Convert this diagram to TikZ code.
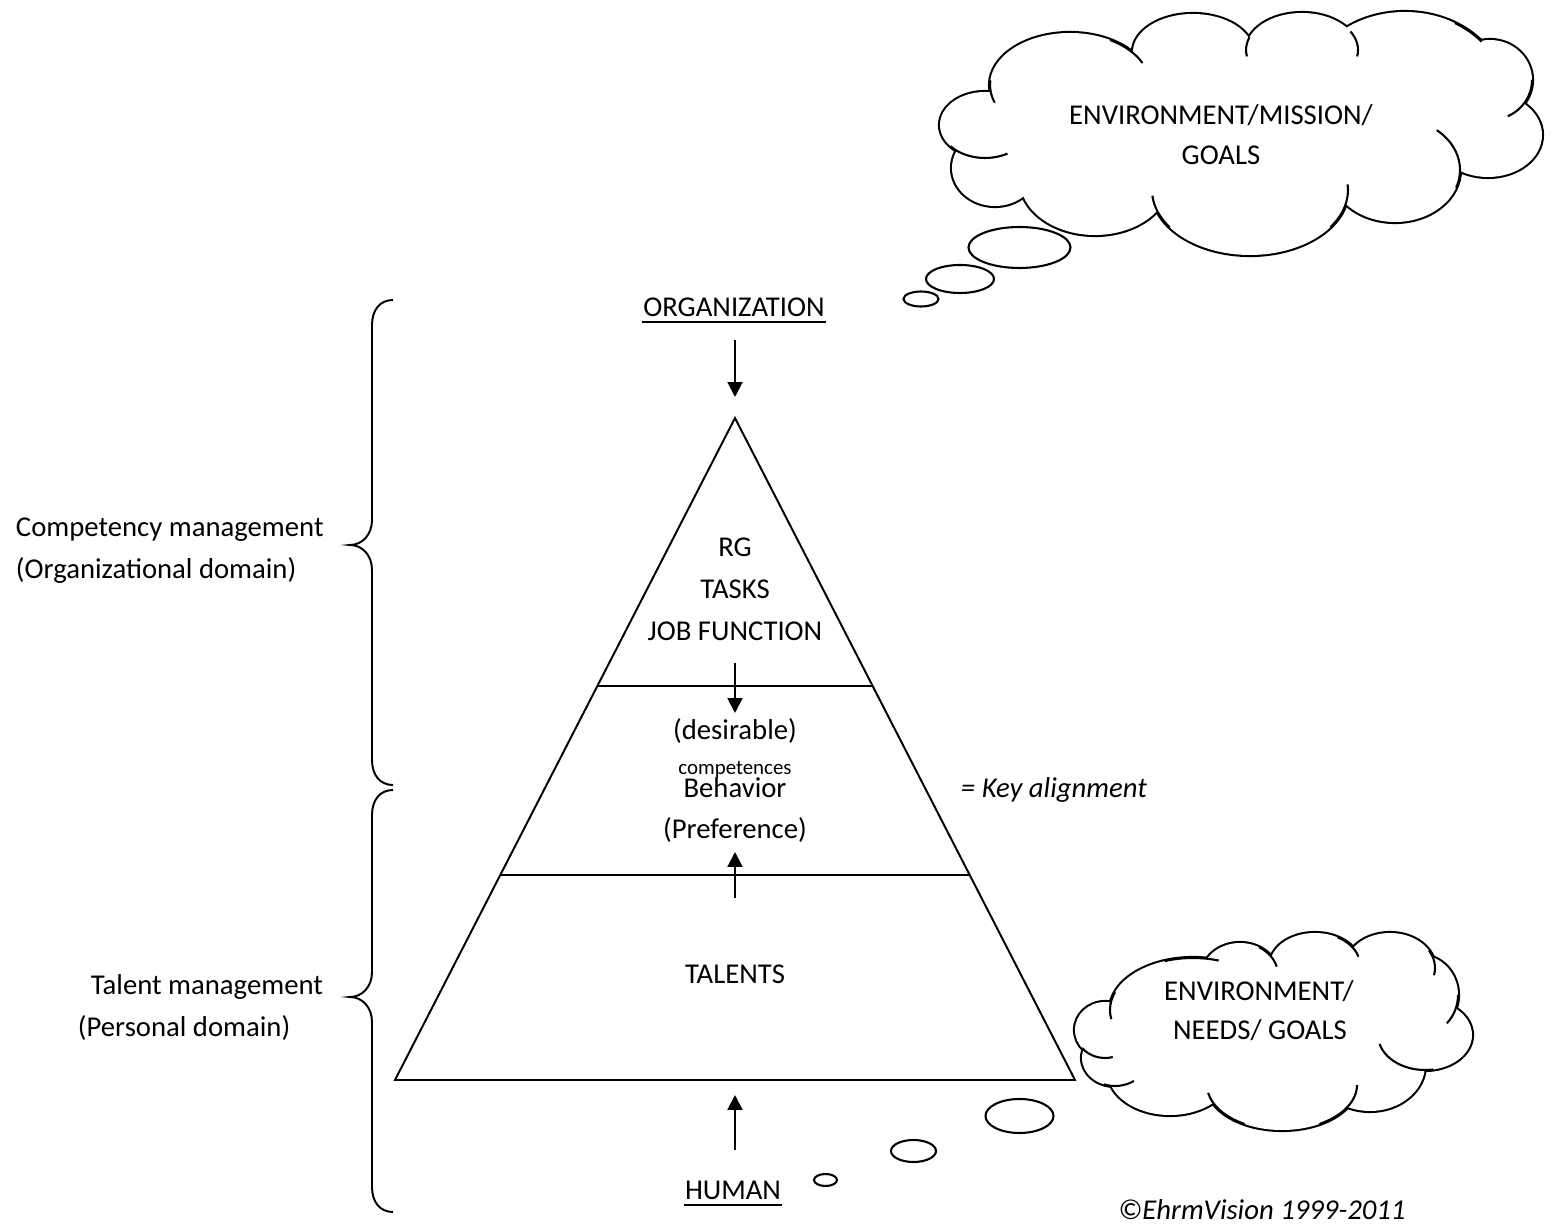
\documentclass[tikz,border=0pt]{standalone}
\usepackage{fontspec}
\setmainfont{Carlito}
\usetikzlibrary{arrows.meta}
\newcommand{\pxl}{0.3832pt}
% outline stroke of a cloud puff (drawn double width, inner half is covered by the fills)
\newcommand{\puffstroke}[4]{\draw[line width=1.6pt] (#1,#2) ellipse [x radius=#3*\pxl, y radius=#4*\pxl];}
\newcommand{\pufffill}[4]{\fill[white] (#1,#2) ellipse [x radius=#3*\pxl, y radius=#4*\pxl];}
% short inner arc of a puff, angles in canvas orientation
\newcommand{\puffstub}[6]{\draw[line width=0.8pt] (#1,#2) ++({#5}:{#3*\pxl} and {#4*\pxl}) arc [start angle=#5, end angle=#6, x radius=#3*\pxl, y radius=#4*\pxl];}
\begin{document}
\begin{tikzpicture}[x=0.3832pt,y=-0.3832pt,line width=0.75pt,
  txt/.style={inner sep=0pt,font=\fontsize{11pt}{13pt}\selectfont,anchor=base},
  arr/.style={-{Triangle[width=5.7pt,length=5.7pt]},line width=0.8pt},
  bubble/.style={draw=black,line width=0.8pt}]
\useasboundingbox (0,0) rectangle (1553,1228);

% ---------- big cloud ----------
\puffstroke{985}{125}{45}{33}
\puffstroke{1070}{85}{80}{52}
\puffstroke{1193}{52}{60}{38}
\puffstroke{1302}{50}{56}{37}
\puffstroke{1405}{95}{100}{83}
\puffstroke{1490}{80}{42}{40}
\puffstroke{1488}{135}{54}{42}
\puffstroke{1395}{170}{65}{52}
\puffstroke{1250}{190}{98}{65}
\puffstroke{1095}{180}{75}{55}
\puffstroke{995}{168}{43}{38}
\pufffill{985}{125}{45}{33}
\pufffill{1070}{85}{80}{52}
\pufffill{1193}{52}{60}{38}
\pufffill{1302}{50}{56}{37}
\pufffill{1405}{95}{100}{83}
\pufffill{1490}{80}{42}{40}
\pufffill{1488}{135}{54}{42}
\pufffill{1395}{170}{65}{52}
\pufffill{1250}{190}{98}{65}
\pufffill{1095}{180}{75}{55}
\pufffill{995}{168}{43}{38}
\fill[white] (1240,125) ellipse [x radius=235*\pxl, y radius=70*\pxl];
\puffstub{985}{125}{45}{33}{-140}{-60}
\puffstub{1070}{85}{80}{52}{-185}{-160}
\puffstub{1070}{85}{80}{52}{60}{25}
\puffstub{1302}{50}{56}{37}{-200}{-170}
\puffstub{1302}{50}{56}{37}{30}{-10}
\puffstub{1405}{95}{100}{83}{60}{40}
\puffstub{1490}{80}{42}{40}{0}{-65}
\puffstub{1395}{170}{65}{52}{-20}{50}
\puffstub{1250}{190}{98}{65}{-35}{5}
\puffstub{1250}{190}{98}{65}{-145}{-175}
\node[txt] (c1a) at (1221,125) {ENVIRONMENT/MISSION/};
\node[txt] (c1b) at (1221,165) {GOALS};
\draw[bubble] (1019.5,247.5) ellipse [x radius=51*\pxl, y radius=20.5*\pxl];
\draw[bubble] (960,279) ellipse [x radius=34*\pxl, y radius=14*\pxl];
\draw[bubble] (921,299) ellipse [x radius=17.5*\pxl, y radius=7.5*\pxl];

% ---------- small cloud ----------
\puffstroke{1193}{1010}{83}{52}
\puffstroke{1240}{975}{38}{32}
\puffstroke{1315}{965}{45}{32}
\puffstroke{1390}{968}{45}{35}
\puffstroke{1420}{995}{38}{40}
\puffstroke{1425}{1035}{47}{35}
\puffstroke{1370}{1065}{55}{46}
\puffstroke{1282}{1085}{75}{45}
\puffstroke{1170}{1072}{62}{43}
\puffstroke{1115}{1058}{33}{28}
\puffstroke{1105}{1030}{30}{28}
\pufffill{1193}{1010}{83}{52}
\pufffill{1240}{975}{38}{32}
\pufffill{1315}{965}{45}{32}
\pufffill{1390}{968}{45}{35}
\pufffill{1420}{995}{38}{40}
\pufffill{1425}{1035}{47}{35}
\pufffill{1370}{1065}{55}{46}
\pufffill{1282}{1085}{75}{45}
\pufffill{1170}{1072}{62}{43}
\pufffill{1115}{1058}{33}{28}
\pufffill{1105}{1030}{30}{28}
\fill[white] (1275,1030) ellipse [x radius=155*\pxl, y radius=55*\pxl];
\puffstub{1193}{1010}{83}{52}{-200}{-170}
\puffstub{1193}{1010}{83}{52}{110}{72}
\puffstub{1240}{975}{38}{32}{60}{15}
\puffstub{1315}{965}{45}{32}{60}{15}
\puffstub{1390}{968}{45}{35}{30}{-12}
\puffstub{1420}{995}{38}{40}{0}{-45}
\puffstub{1425}{1035}{47}{35}{-80}{-165}
\puffstub{1282}{1085}{75}{45}{-60}{0}
\puffstub{1282}{1085}{75}{45}{-120}{-170}
\puffstub{1115}{1058}{33}{28}{-110}{-55}
\puffstub{1105}{1030}{30}{28}{-140}{-75}
\node[txt] (c2a) at (1259,1001) {ENVIRONMENT/};
\node[txt] (c2b) at (1260,1040) {NEEDS/ GOALS};
\draw[bubble] (1019.5,1116) ellipse [x radius=34*\pxl, y radius=17*\pxl];
\draw[bubble] (913.5,1151) ellipse [x radius=22.5*\pxl, y radius=11*\pxl];
\draw[bubble] (825.5,1180) ellipse [x radius=11.5*\pxl, y radius=6*\pxl];

% ---------- pyramid ----------
\coordinate (apex) at (735,418);
\coordinate (bl) at (395,1080);
\coordinate (br) at (1075,1080);
\coordinate (l1) at (597.4,686);
\coordinate (r1) at (872.6,686);
\coordinate (l2) at (500.3,875);
\coordinate (r2) at (969.7,875);
\draw (apex) -- (bl) -- (br) -- cycle;
\draw (l1) -- (r1);
\draw (l2) -- (r2);

% ---------- arrows ----------
\coordinate (a1s) at (735,340); \coordinate (a1e) at (735,397);
\coordinate (a2s) at (735,663); \coordinate (a2e) at (735,713);
\coordinate (a3s) at (735,898); \coordinate (a3e) at (735,852);
\coordinate (a4s) at (735,1150); \coordinate (a4e) at (735,1095);
\draw[arr] (a1s) -- (a1e);
\draw[arr] (a2s) -- (a2e);
\draw[arr] (a3s) -- (a3e);
\draw[arr] (a4s) -- (a4e);

% ---------- pyramid texts ----------
\node[txt] (org) at (734,317) {ORGANIZATION};
\draw[line width=0.6pt] ([yshift=-2pt]org.base west) -- ([yshift=-2pt]org.base east);
\node[txt] (rg) at (735,557) {RG};
\node[txt] (tasks) at (735,599) {TASKS};
\node[txt] (job) at (735,641) {JOB FUNCTION};
\node[txt] (des) at (735,740) {(desirable)};
\node[txt,font=\fontsize{8pt}{9pt}\selectfont] (comp) at (735,775) {competences};
\node[txt] (beh) at (735,798) {Behavior};
\node[txt] (pref) at (735,839) {(Preference)};
\node[txt] (tal) at (735,984) {TALENTS};
\node[txt] (hum) at (733,1200) {HUMAN};
\draw[line width=0.6pt] ([yshift=-2pt]hum.base west) -- ([yshift=-2pt]hum.base east);
\node[txt,anchor=base west,font=\fontsize{11pt}{13pt}\selectfont\itshape] (key) at (960,798) {= Key alignment};
\node[txt,font=\fontsize{11pt}{13pt}\selectfont\itshape] (copy) at (1262,1220) {©EhrmVision 1999-2011};

% ---------- side labels ----------
\node[txt,anchor=base west] (cm1) at (15,537) {Competency management};
\node[txt,anchor=base west] (cm2) at (15,579) {(Organizational domain)};
\node[txt,anchor=base west] (tm1) at (90,995) {Talent management};
\node[txt,anchor=base west] (tm2) at (77,1037) {(Personal domain)};

% ---------- braces ----------
\draw (393,300) .. controls (380,300) and (372,310) .. (372,325) -- (372,520)
  .. controls (372,535) and (362,545) .. (350,545)
  .. controls (362,545) and (372,555) .. (372,570) -- (372,760)
  .. controls (372,775) and (380,785) .. (393,785);
\draw (393,790) .. controls (380,790) and (372,800) .. (372,815) -- (372,972)
  .. controls (372,987) and (362,997) .. (350,997)
  .. controls (362,997) and (372,1007) .. (372,1022) -- (372,1187)
  .. controls (372,1202) and (380,1212) .. (393,1212);
\end{tikzpicture}
\end{document}
